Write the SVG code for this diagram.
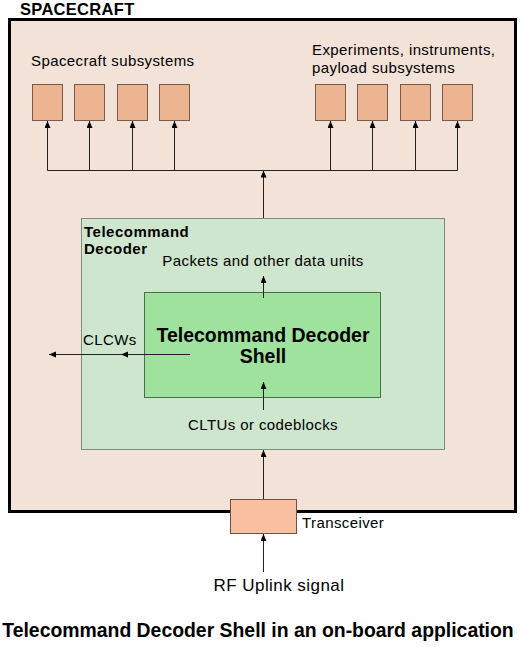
<svg xmlns="http://www.w3.org/2000/svg" width="526" height="647" viewBox="0 0 526 647">
<defs>
<marker id="arr" markerUnits="userSpaceOnUse" markerWidth="8" markerHeight="7" refX="7" refY="3" orient="auto">
<path d="M0,0 L7,3 L0,6 z" fill="#000"/>
</marker>
<style>
text{font-family:"Liberation Sans",Arial,sans-serif;fill:#000}
.lbl{font-size:15px;letter-spacing:0.4px}
.sub{fill:#edb491;stroke:#7a5a48;stroke-width:1}
.ln{fill:none;stroke:#222;stroke-width:1}
.ar{fill:none;stroke:#222;stroke-width:1;marker-end:url(#arr)}
</style>
</defs>
<rect width="526" height="647" fill="#fff"/>
<g id="spacecraft">
<rect x="9.5" y="19.5" width="506" height="492" fill="#f3e2d8" stroke="#000" stroke-width="3"/>
<text x="20" y="15" font-size="16.5" font-weight="bold" letter-spacing="0.3">SPACECRAFT</text>
<text class="lbl" x="31" y="66">Spacecraft subsystems</text>
<text class="lbl" x="312" y="55">Experiments, instruments,</text>
<text class="lbl" x="312" y="73">payload subsystems</text>
</g>
<g id="subsystems">
<rect id="sub1" class="sub" x="32.5" y="84.5" width="30" height="36"/>
<rect id="sub2" class="sub" x="74.5" y="84.5" width="30" height="36"/>
<rect id="sub3" class="sub" x="117.5" y="84.5" width="30" height="36"/>
<rect id="sub4" class="sub" x="159.5" y="84.5" width="30" height="36"/>
<rect id="exp1" class="sub" x="315.5" y="84.5" width="30" height="36"/>
<rect id="exp2" class="sub" x="357.5" y="84.5" width="30" height="36"/>
<rect id="exp3" class="sub" x="400.5" y="84.5" width="30" height="36"/>
<rect id="exp4" class="sub" x="442.5" y="84.5" width="30" height="36"/>
</g>
<g id="decoder">
<rect x="81.5" y="218.5" width="363" height="231" fill="#cde6cd" stroke="#7d8d7d" stroke-width="1"/>
<text x="84" y="237" font-size="15" font-weight="bold" letter-spacing="0.5">Telecommand</text>
<text x="84" y="254" font-size="15" font-weight="bold" letter-spacing="0.5">Decoder</text>
<text class="lbl" x="263" y="266" text-anchor="middle">Packets and other data units</text>
<text class="lbl" x="263" y="430" text-anchor="middle">CLTUs or codeblocks</text>
<text class="lbl" x="83" y="345">CLCWs</text>
</g>
<g id="shell">
<rect x="144.5" y="292.5" width="236" height="105" fill="#9ee29e" stroke="#4d6e4d" stroke-width="1"/>
<text x="263" y="342" font-size="19.5" font-weight="bold" text-anchor="middle">Telecommand Decoder</text>
<text x="263" y="363" font-size="19.5" font-weight="bold" text-anchor="middle">Shell</text>
</g>
<g id="connectors">
<path class="ln" d="M47.5,170.5 H457.5"/>
<path class="ar" d="M47.5,170.5 V121"/>
<path class="ar" d="M89.5,170.5 V121"/>
<path class="ar" d="M132.5,170.5 V121"/>
<path class="ar" d="M174.5,170.5 V121"/>
<path class="ar" d="M330.5,170.5 V121"/>
<path class="ar" d="M372.5,170.5 V121"/>
<path class="ar" d="M415.5,170.5 V121"/>
<path class="ar" d="M457.5,170.5 V121"/>
<path class="ar" d="M263.5,218 V170.5"/>
<path class="ar" d="M263.5,298 V276"/>
<path class="ar" d="M263.5,410 V382"/>
<path class="ar" d="M263.5,499 V450"/>
<path class="ar" d="M263.5,572 V534"/>
<path class="ln" d="M190,354.5 L121,354.5 L49,354.5" marker-mid="url(#arr)" marker-end="url(#arr)"/>
</g>
<g id="transceiver">
<rect x="230.5" y="499.5" width="66" height="34" fill="#f8bfa1" stroke="#6e5242" stroke-width="1"/>
<text class="lbl" x="302" y="528">Transceiver</text>
</g>
<g id="rf">
<text x="279" y="591" font-size="17" letter-spacing="0.45" text-anchor="middle">RF Uplink signal</text>
</g>
<g id="title">
<text x="258" y="637" font-size="19.4" font-weight="bold" text-anchor="middle">Telecommand Decoder Shell in an on-board application</text>
</g>
</svg>
